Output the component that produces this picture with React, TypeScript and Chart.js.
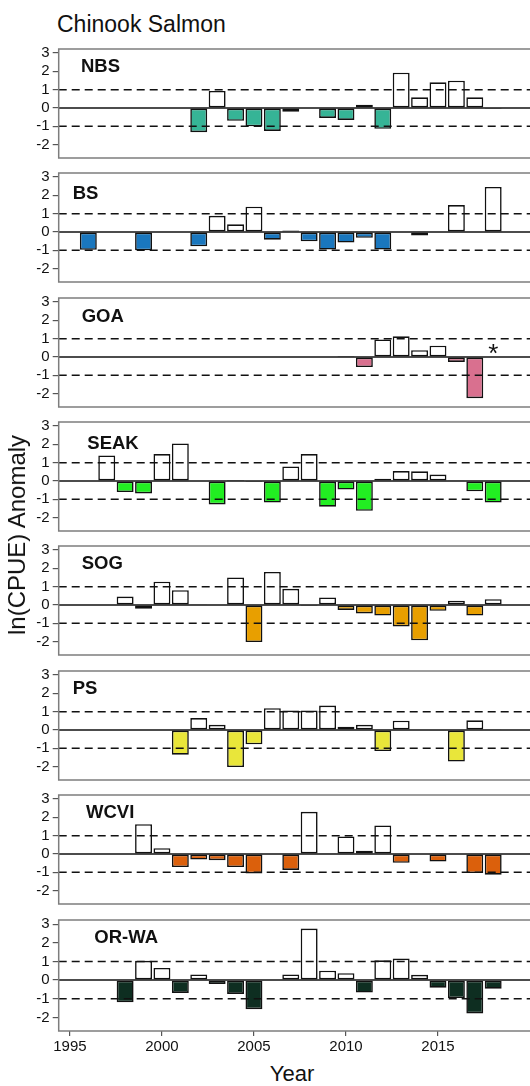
import React, { useEffect, useRef } from "react";
import { Chart, registerables } from "chart.js";

Chart.register(...registerables);

// ---------------- data ----------------
const TITLE = "Chinook Salmon";
const X_TITLE = "Year";
const Y_TITLE = "ln(CPUE) Anomaly";

const YEARS = [
  1996, 1997, 1998, 1999, 2000, 2001, 2002, 2003, 2004, 2005, 2006, 2007,
  2008, 2009, 2010, 2011, 2012, 2013, 2014, 2015, 2016, 2017, 2018,
];
const X_TICKS = [1995, 2000, 2005, 2010, 2015];
const Y_TICKS = [-2, -1, 0, 1, 2, 3];
const REF_LINES = [-1, 1];

const PANEL_NAMES = ["NBS", "BS", "GOA", "SEAK", "SOG", "PS", "WCVI", "OR-WA"];

const nbs = [null, null, null, null, null, null, -1.32, 0.93, -0.7, -1.0, -1.25, -0.21, null, -0.54, -0.65, 0.18, -1.14, 1.93, 0.58, 1.4, 1.49, 0.58, -0.05];
const bs = [-0.97, null, null, -1.0, null, null, -0.78, 0.88, 0.42, 1.38, -0.42, 0.08, -0.51, -0.96, -0.58, -0.32, -0.96, null, -0.19, null, 1.47, null, 2.46];
const goa = [null, null, null, null, null, null, null, null, null, null, null, null, null, null, 0.05, -0.55, 0.96, 1.13, 0.37, 0.62, -0.27, -2.25, null];
const seak = [null, 1.39, -0.6, -0.68, 1.47, 2.05, null, -1.28, 0.05, -0.05, -1.18, 0.79, 1.47, -1.4, -0.47, -1.63, 0.12, 0.54, 0.53, 0.35, 0.04, -0.56, -1.18];
const sog = [null, null, 0.46, -0.21, 1.27, 0.81, 0.04, null, 1.5, -2.02, 1.8, 0.88, -0.05, 0.41, -0.27, -0.46, -0.58, -1.17, -1.93, -0.32, 0.23, -0.58, 0.32];
const ps = [null, null, null, null, null, -1.35, 0.65, 0.28, -2.02, -0.78, 1.19, 1.06, 1.06, 1.33, 0.18, 0.28, -1.15, 0.51, -0.03, -0.02, -1.72, 0.53, 0.04];
const wcvi = [null, null, null, 1.63, 0.32, -0.71, -0.3, -0.34, -0.71, -1.06, null, -0.87, 2.3, 0.04, 0.96, 0.18, 1.56, -0.48, null, -0.41, null, -1.04, -1.13];
const orwa = [null, null, -1.19, 1.03, 0.65, -0.69, 0.3, -0.21, -0.74, -1.56, -0.03, 0.3, 2.76, 0.5, 0.37, -0.67, 1.06, 1.15, 0.28, -0.41, -0.96, -1.79, -0.46];

const PANEL_VALUES = [nbs, bs, goa, seak, sog, ps, wcvi, orwa];

// annotation: asterisk in GOA panel
const ASTERISK_PANEL = "GOA";
const ASTERISK_YEAR = 2018;
const ASTERISK_VALUE = 0.14;

// ---------------- styles / layout ----------------
const PANEL_COLORS = ["#36B496", "#1A77BE", "#D9708F", "#22EE22", "#E89F00", "#E9E63A", "#DB600C", "#0E2E21"];
const POSITIVE_COLOR = "#ffffff";
const FONT = "'Liberation Sans', Arial, Helvetica, sans-serif";

const X_MIN = 1994.39;
const X_MAX = 2020.0;
const Y_MIN = -2.73;
const Y_MAX = 3.22;

const W = 530;
const PLOT_LEFT = 58.7;
const PLOT_H = 113;
const FIRST_TOP = 46.7;
const PANEL_STEP = 124.43;
const PAD = 10;
const X_AXIS_H = 30;

const LABEL_DX = [22.3, 14, 23, 28.6, 23, 14, 27.3, 35.6];
const LABEL_DY = [23.3, 25.6, 24.3, 26.7, 23.3, 23.3, 23.4, 23.3];

function Panel({ idx }: { idx: number }) {
  const ref = useRef<HTMLCanvasElement | null>(null);
  const isLast = idx === PANEL_NAMES.length - 1;
  const height = PAD + PLOT_H + (isLast ? X_AXIS_H : PAD);
  const top = FIRST_TOP + idx * PANEL_STEP - PAD;

  useEffect(() => {
    const values = PANEL_VALUES[idx];
    const color = PANEL_COLORS[idx];
    const name = PANEL_NAMES[idx];
    const data = YEARS.map((y, i) => ({ x: y, y: values[i] })).filter(
      (d) => d.y !== null
    ) as { x: number; y: number }[];

    const panelPlugin = {
      id: "panelDecor" + idx,
      afterDatasetsDraw(chart: any) {
        const { ctx, chartArea } = chart;
        const ys = chart.scales.y;
        ctx.save();
        ctx.strokeStyle = "#111";
        ctx.lineWidth = 1.5;
        ctx.setLineDash([8, 5]);
        REF_LINES.forEach((v) => {
          const py = ys.getPixelForValue(v);
          ctx.beginPath();
          ctx.moveTo(chartArea.left, py);
          ctx.lineTo(chartArea.right, py);
          ctx.stroke();
        });
        ctx.setLineDash([]);
        const p0 = ys.getPixelForValue(0);
        ctx.beginPath();
        ctx.moveTo(chartArea.left, p0);
        ctx.lineTo(chartArea.right, p0);
        ctx.stroke();
        ctx.restore();
      },
      afterDraw(chart: any) {
        const { ctx, chartArea } = chart;
        ctx.save();
        ctx.strokeStyle = "#7d7d7d";
        ctx.lineWidth = 1.5;
        ctx.beginPath();
        ctx.moveTo(chartArea.right + 2, chartArea.top);
        ctx.lineTo(chartArea.left, chartArea.top);
        ctx.lineTo(chartArea.left, chartArea.bottom);
        ctx.lineTo(chartArea.right + 2, chartArea.bottom);
        ctx.stroke();

        ctx.fillStyle = "#111";
        ctx.font = `bold 18.5px ${FONT}`;
        ctx.textBaseline = "alphabetic";
        ctx.textAlign = "left";
        ctx.fillText(name, chartArea.left + LABEL_DX[idx], chartArea.top + LABEL_DY[idx]);

        if (name === ASTERISK_PANEL) {
          const xs = chart.scales.x;
          const ys = chart.scales.y;
          ctx.font = `26px ${FONT}`;
          ctx.textAlign = "center";
          ctx.textBaseline = "middle";
          ctx.fillText("*", xs.getPixelForValue(ASTERISK_YEAR), ys.getPixelForValue(ASTERISK_VALUE));
        }
        ctx.restore();
      },
    };

    const xScale: any = {
      type: "linear",
      min: X_MIN,
      max: X_MAX,
      offset: false,
      display: isLast,
      afterBuildTicks: (s: any) => {
        s.ticks = X_TICKS.map((v) => ({ value: v }));
      },
      grid: { offset: false, drawOnChartArea: false, drawTicks: true, tickLength: 5, color: "#555", lineWidth: 1.2 },
      border: { display: false },
      ticks: {
        autoSkip: false,
        maxRotation: 0,
        padding: 2,
        color: "#111",
        font: { size: 15, family: FONT },
        callback: (v: any) => String(v),
      },
    };
    if (isLast) {
      xScale.afterFit = (s: any) => {
        s.height = X_AXIS_H;
      };
    }

    const chart = new Chart(ref.current as HTMLCanvasElement, {
      type: "bar",
      data: {
        datasets: [
          {
            data: data as any,
            backgroundColor: data.map((d) => (d.y < 0 ? color : POSITIVE_COLOR)),
            borderColor: "#111",
            borderWidth: 1.6,
            borderSkipped: false,
            barPercentage: 0.92,
            categoryPercentage: 1,
          } as any,
        ],
      },
      options: {
        animation: false,
        responsive: false,
        maintainAspectRatio: false,
        devicePixelRatio: 1,
        layout: { padding: { top: PAD, bottom: isLast ? 0 : PAD, left: 0, right: 0 } },
        plugins: { legend: { display: false }, tooltip: { enabled: false } },
        scales: {
          x: xScale,
          y: {
            type: "linear",
            min: Y_MIN,
            max: Y_MAX,
            afterBuildTicks: (s: any) => {
              s.ticks = Y_TICKS.map((v) => ({ value: v }));
            },
            afterFit: (s: any) => {
              s.width = PLOT_LEFT;
            },
            grid: { drawOnChartArea: false, drawTicks: true, tickLength: 6, color: "#555", lineWidth: 1.2 },
            border: { display: false },
            ticks: {
              autoSkip: false,
              padding: 3,
              color: "#111",
              font: { size: 15, family: FONT },
              callback: (v: any) => String(v),
            },
          },
        },
      } as any,
      plugins: [panelPlugin],
    });
    return () => chart.destroy();
  }, [idx]);

  return (
    <canvas
      ref={ref}
      width={W}
      height={height}
      style={{ position: "absolute", left: 0, top, width: W, height }}
    />
  );
}

export default function App() {
  return (
    <div
      style={{
        position: "absolute",
        left: 0,
        top: 0,
        width: W,
        height: 1086,
        overflow: "hidden",
        background: "#ffffff",
        fontFamily: FONT,
        color: "#111",
      }}
    >
      <div
        style={{
          position: "absolute",
          left: 57,
          top: 12.8,
          fontSize: 23,
          lineHeight: "23px",
          whiteSpace: "nowrap",
        }}
      >
        {TITLE}
      </div>
      {PANEL_NAMES.map((n, i) => (
        <Panel key={n} idx={i} />
      ))}
      <div
        style={{
          position: "absolute",
          left: 292,
          top: 1063,
          fontSize: 22,
          lineHeight: "22px",
          transform: "translateX(-50%)",
          whiteSpace: "nowrap",
        }}
      >
        {X_TITLE}
      </div>
      <div
        style={{
          position: "absolute",
          left: 17,
          top: 535,
          fontSize: 24,
          lineHeight: "24px",
          transform: "translate(-50%, -50%) rotate(-90deg)",
          whiteSpace: "nowrap",
        }}
      >
        {Y_TITLE}
      </div>
    </div>
  );
}
